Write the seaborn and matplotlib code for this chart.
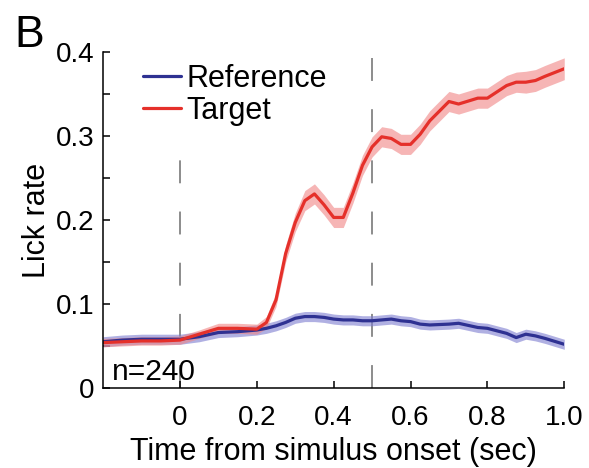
import matplotlib
matplotlib.use("Agg")
import matplotlib.pyplot as plt
import seaborn as sns
import pandas as pd
import numpy as np

# time axis (sec) and mean lick rate / sem
time = [-0.2, -0.15, -0.1, -0.05, 0.0, 0.05, 0.1, 0.15, 0.2, 0.225, 0.25, 0.275,
        0.3, 0.325, 0.35, 0.375, 0.4, 0.425, 0.45, 0.475, 0.5, 0.525, 0.55, 0.575,
        0.6, 0.625, 0.65, 0.7, 0.725, 0.775, 0.8, 0.85, 0.875, 0.9, 0.925, 0.95, 1.0]

target_mean = [0.054, 0.055, 0.056, 0.056, 0.057, 0.064, 0.071, 0.071, 0.070, 0.078, 0.105, 0.160,
               0.197, 0.223, 0.231, 0.218, 0.203, 0.203, 0.232, 0.265, 0.287, 0.299, 0.297, 0.290,
               0.290, 0.302, 0.318, 0.341, 0.338, 0.345, 0.345, 0.360, 0.364, 0.364, 0.366, 0.371, 0.380]
target_sem = [0.005, 0.005, 0.005, 0.005, 0.005, 0.005, 0.006, 0.006, 0.006, 0.007, 0.008, 0.010,
              0.011, 0.012, 0.012, 0.012, 0.012, 0.012, 0.012, 0.012, 0.012, 0.012, 0.012, 0.012,
              0.012, 0.012, 0.012, 0.012, 0.012, 0.012, 0.012, 0.012, 0.012, 0.013, 0.013, 0.013, 0.013]

ref_mean = [0.055, 0.057, 0.058, 0.058, 0.058, 0.061, 0.066, 0.067, 0.069, 0.071, 0.074, 0.078,
            0.083, 0.085, 0.085, 0.084, 0.082, 0.081, 0.081, 0.080, 0.080, 0.081, 0.082, 0.080,
            0.079, 0.076, 0.075, 0.076, 0.077, 0.072, 0.071, 0.065, 0.060, 0.064, 0.062, 0.059, 0.052]
ref_sem = [0.006] * len(time)

conditions = ["Reference", "Target"]
line_colors = ["#2e3192", "#e5302a"]
band_colors = ["#7c7cd0", "#f08585"]

df = pd.DataFrame({
    "time": time * 2,
    "rate": ref_mean + target_mean,
    "condition": ["Reference"] * len(time) + ["Target"] * len(time),
})

sns.set_style("ticks")
plt.rcParams["font.family"] = ["Liberation Sans", "DejaVu Sans"]
plt.rcParams["text.color"] = "black"
plt.rcParams["axes.labelcolor"] = "black"
plt.rcParams["xtick.color"] = "black"
plt.rcParams["ytick.color"] = "black"

fig = plt.figure(figsize=(5.89, 4.68), dpi=100)
ax = fig.add_axes([0.175, 0.171, 0.783, 0.718])

t = np.array(time)
for m, s, c in [(ref_mean, ref_sem, band_colors[0]), (target_mean, target_sem, band_colors[1])]:
    m = np.array(m)
    s = np.array(s)
    ax.fill_between(t, m - s, m + s, color=c, alpha=0.6, lw=0)

sns.lineplot(data=df, x="time", y="rate", hue="condition", hue_order=conditions,
             palette=line_colors, lw=2.3, ax=ax)

for xv in [0, 0.5]:
    ax.axvline(xv, color="#6e6e6e", lw=1.1, ls=(0, (15, 18.5)), zorder=0.5)

ax.set_xlim(-0.2, 1.0)
ax.set_ylim(0, 0.4)
ax.set_xticks([0, 0.2, 0.4, 0.6, 0.8, 1.0])
ax.set_xticklabels(["0", "0.2", "0.4", "0.6", "0.8", "1.0"])
ax.set_yticks([0, 0.1, 0.2, 0.3, 0.4])
ax.set_yticklabels(["0", "0.1", "0.2", "0.3", "0.4"])
ax.set_yticks([0.05, 0.15, 0.25, 0.35], minor=True)
ax.tick_params(axis="both", which="both", direction="in", length=5, width=1.1,
               labelsize=20, color="black", labelcolor="black")
ax.tick_params(axis="x", pad=12.5)
ax.tick_params(axis="y", pad=6)
for sp in ["left", "bottom"]:
    ax.spines[sp].set_linewidth(1.1)
    ax.spines[sp].set_color("black")
sns.despine(ax=ax)

ax.set_xlabel("Time from simulus onset (sec)", fontsize=22, labelpad=4, color="black")
ax.set_ylabel("Lick rate", fontsize=22, labelpad=3, color="black")

ax.text(-0.176, 0.0095, "n=240", fontsize=21.5, ha="left", va="baseline", color="black")

leg = ax.legend(loc="upper left", bbox_to_anchor=(0.064, 0.997), fontsize=22,
                frameon=True, facecolor="white", edgecolor="none", framealpha=1,
                handlelength=1.25, handletextpad=0.15, labelspacing=0.08, borderpad=0.35,
                borderaxespad=0)
for txt in leg.get_texts():
    txt.set_color("black")

fig.text(14 / 589, 1 - 47 / 468, "B", fontsize=32, ha="left", va="baseline", color="black")

fig.savefig("out.png", dpi=100)
